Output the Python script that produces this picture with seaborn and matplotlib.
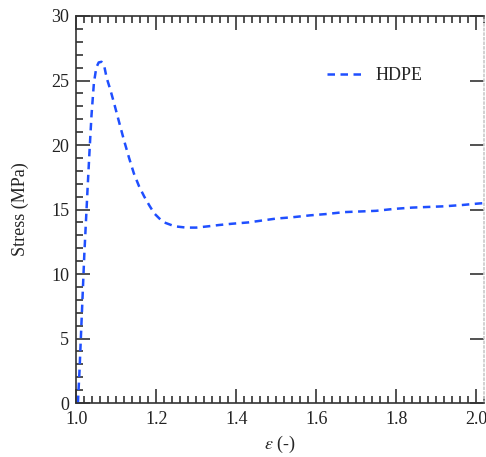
import matplotlib
matplotlib.use("Agg")
import matplotlib.pyplot as plt
import seaborn as sns
import pandas as pd
from matplotlib.ticker import MultipleLocator

# strain (-) and stress (MPa)
strain = [1.004, 1.008, 1.012, 1.016, 1.020, 1.024, 1.028, 1.033, 1.038, 1.044,
          1.050, 1.056, 1.063, 1.070, 1.076, 1.085, 1.094, 1.106, 1.119, 1.132,
          1.144, 1.157, 1.170, 1.183, 1.195, 1.208, 1.220, 1.246, 1.275, 1.300,
          1.330, 1.357, 1.390, 1.430, 1.465, 1.500, 1.540, 1.585, 1.625, 1.670,
          1.710, 1.750, 1.795, 1.840, 1.880, 1.920, 1.965, 2.000, 2.020]
stress = [0.0, 2.5, 5.5, 8.5, 11.5, 14.0, 16.5, 19.5, 22.3, 24.8,
          26.0, 26.4, 26.45, 26.1, 25.2, 24.3, 23.3, 21.9, 20.4, 19.0,
          17.8, 16.8, 16.0, 15.3, 14.7, 14.3, 14.0, 13.7, 13.6, 13.6,
          13.7, 13.8, 13.9, 14.0, 14.15, 14.3, 14.4, 14.55, 14.65, 14.8,
          14.85, 14.9, 15.05, 15.15, 15.2, 15.25, 15.35, 15.45, 15.5]

df = pd.DataFrame({"strain": strain, "stress": stress, "material": "HDPE"})

sns.set_theme(style="ticks")
plt.rcParams["font.family"] = ["Liberation Serif", "DejaVu Serif"]
plt.rcParams["mathtext.fontset"] = "stix"

dash = [3.0, 2.2]

fig, ax = plt.subplots(figsize=(4.86, 4.57), dpi=100)
sns.lineplot(data=df, x="strain", y="stress", hue="material", sort=False,
             palette=["#1f4fff"], linewidth=1.8, ax=ax)
ax.lines[0].set_dashes(dash)

ax.set_xlim(1.0, 2.02)
ax.set_ylim(0, 30)
ax.xaxis.set_major_locator(MultipleLocator(0.2))
ax.xaxis.set_minor_locator(MultipleLocator(0.02))
ax.yaxis.set_major_locator(MultipleLocator(5))
ax.yaxis.set_minor_locator(MultipleLocator(1))
ax.xaxis.set_major_formatter(matplotlib.ticker.FormatStrFormatter("%.1f"))

ax.tick_params(which="both", direction="in", top=True, right=True,
               labelsize=13, colors="#222222", width=1.1)
ax.tick_params(which="minor", right=False)
ax.tick_params(which="major", length=10)
ax.tick_params(which="minor", length=5)
ax.tick_params(axis="x", pad=6)
ax.tick_params(axis="y", pad=5)

for side in ["left", "bottom", "top"]:
    ax.spines[side].set_color("#333333")
    ax.spines[side].set_linewidth(1.2)
ax.spines["right"].set_color("#cccccc")
ax.spines["right"].set_linestyle(":")

ax.set_xlabel(r"$\varepsilon$ (-)", fontsize=13, labelpad=4)
ax.set_ylabel("Stress (MPa)", fontsize=13, labelpad=16)

leg = ax.legend(loc="upper right", bbox_to_anchor=(0.89, 0.91), frameon=False,
                fontsize=13, handlelength=1.9, handletextpad=0.8, title=None)
leg.get_lines()[0].set_dashes(dash)

fig.subplots_adjust(left=0.157, right=0.996, top=0.965, bottom=0.118)
fig.savefig("out.png", dpi=100)
